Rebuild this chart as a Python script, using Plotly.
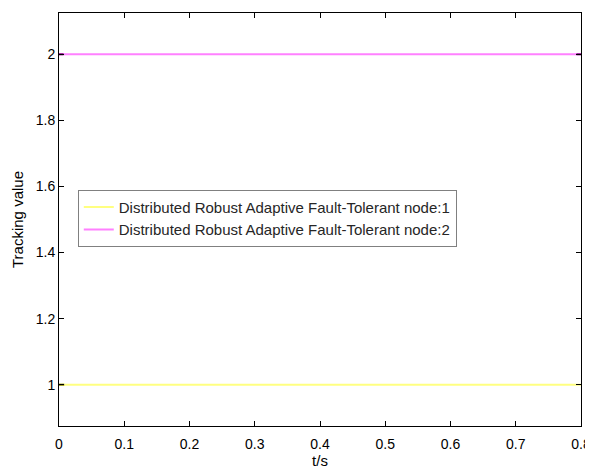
import plotly.graph_objects as go

# Data
t = [0.0, 0.8]
node1 = [1.0, 1.0]
node2 = [2.0, 2.0]
names = ["Distributed Robust Adaptive Fault-Tolerant node:1",
         "Distributed Robust Adaptive Fault-Tolerant node:2"]
x_ticks = [0, 0.1, 0.2, 0.3, 0.4, 0.5, 0.6, 0.7, 0.8]
y_ticks = [1, 1.2, 1.4, 1.6, 1.8, 2]

# short darker overlap segments seen at the line ends
edge1_t = [0.0, 0.008]
edge1_v = [1.0, 1.0]
edge2a_t = [0.0, 0.007]
edge2b_t = [0.793, 0.8]
edge2_v = [2.0, 2.0]

fig = go.Figure()
fig.add_trace(go.Scatter(x=t, y=node1, mode="lines", line_shape="hv",
                         line=dict(color="#FFFF80", width=2), name=names[0]))
fig.add_trace(go.Scatter(x=t, y=node2, mode="lines", line_shape="hv",
                         line=dict(color="#FF80FF", width=2), name=names[1]))
fig.add_trace(go.Scatter(x=edge1_t, y=edge1_v, mode="lines", showlegend=False,
                         line=dict(color="#808000", width=2), hoverinfo="skip"))
fig.add_trace(go.Scatter(x=edge2a_t, y=edge2_v, mode="lines", showlegend=False,
                         line=dict(color="#800080", width=2), hoverinfo="skip"))
fig.add_trace(go.Scatter(x=edge2b_t, y=edge2_v, mode="lines", showlegend=False,
                         line=dict(color="#800080", width=2), hoverinfo="skip"))

axis_common = dict(showline=True, linecolor="black", linewidth=1, mirror="ticks",
                   ticks="inside", ticklen=5, tickcolor="black", showgrid=False,
                   zeroline=False, automargin=False,
                   tickfont=dict(family="Liberation Sans, Arial", size=14, color="black"))

fig.update_layout(
    width=585, height=461,
    margin=dict(l=51, r=12, t=5, b=43),
    plot_bgcolor="white", paper_bgcolor="white",
    font=dict(family="Liberation Sans, Arial", size=14, color="black"),
    xaxis=dict(range=[0, 0.8], tickvals=x_ticks, ticktext=[str(v) for v in x_ticks],
               ticklabelstandoff=5,
               title=dict(text="t/s", font=dict(size=15), standoff=6), **axis_common),
    yaxis=dict(range=[0.875, 2.125], tickvals=y_ticks, ticktext=[str(v) for v in y_ticks],
               title=dict(text="Tracking value", font=dict(size=15), standoff=8), **axis_common),
    legend=dict(x=0.036, y=0.572, xanchor="left", yanchor="top",
                bgcolor="white", bordercolor="#808080", borderwidth=1,
                font=dict(size=15, color="#262626"), tracegroupgap=0,
                itemwidth=30),
    showlegend=True,
)

fig.write_html("out.html")
